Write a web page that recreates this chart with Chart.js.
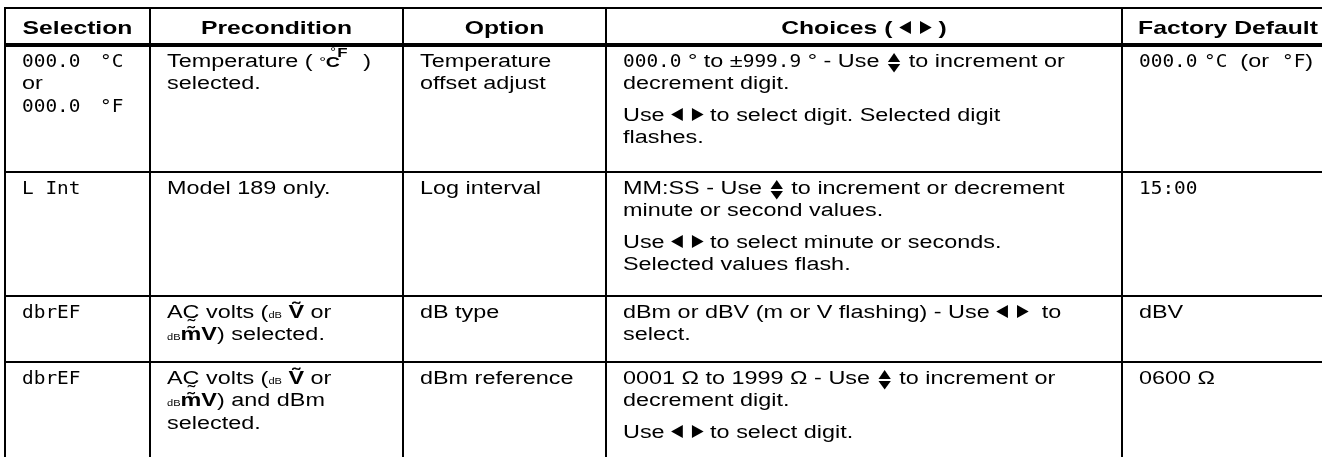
<!DOCTYPE html>
<html>
<head>
<meta charset="utf-8">
<script src="https://cdn.jsdelivr.net/npm/chart.js@4.4.1/dist/chart.umd.min.js"></script>
<style>
  html, body { margin: 0; padding: 0; background: #fff; }
  canvas { display: block; }
</style>
</head>
<body>
<canvas id="setupTable" width="1322" height="457"></canvas>
<script>
'use strict';

// ---- table contents (cell = list of paragraphs, paragraph = list of lines) ----
// {l:..} display font, {b:..} bold, {s:..} small, {lr} left/right keys, {ud} up/down keys, {deg} °C°F sign
const headers = ['Selection', 'Precondition', 'Option', 'Choices ( {lr} )', 'Factory Default'];

const selections = [
  [['{l:000.0}   {l:°C}', 'or', '{l:000.0}   {l:°F}']],
  [['{l:L Int}']],
  [['{l:dbrEF}']],
  [['{l:dbrEF}']]
];

const preconditions = [
  [['Temperature ( {deg}  )', 'selected.']],
  [['Model 189 only.']],
  [['AC\u0330 volts ({s:dB} {b:V\u0303} or', '{s:dB}{b:m\u0303V}) selected.']],
  [['AC\u0330 volts ({s:dB} {b:V\u0303} or', '{s:dB}{b:m\u0303V}) and dBm', 'selected.']]
];

const optionNames = [
  [['Temperature', 'offset adjust']],
  [['Log interval']],
  [['dB type']],
  [['dBm reference']]
];

const choices = [
  [['{l:000.0} ° to ±{l:999.9} ° - Use {ud} to increment or', 'decrement digit.'],
   ['Use {lr} to select digit. Selected digit', 'flashes.']],
  [['MM:SS - Use {ud} to increment or decrement', 'minute or second values.'],
   ['Use {lr} to select minute or seconds.', 'Selected values flash.']],
  [['dBm or dBV (m or V flashing) - Use {lr}  to', 'select.']],
  [['0001 \u03a9 to 1999 \u03a9 - Use {ud} to increment or', 'decrement digit.'],
   ['Use {lr} to select digit.']]
];

const factoryDefaults = [
  [['{l:000.0} {l:°C}  (or  {l:°F})']],
  [['{l:15:00}']],
  [['dBV']],
  [['0600 \u03a9']]
];

// ---- layout ----
const colEdges = [5, 150, 403, 606, 1122, 1334];
const rowEdges = [8, 45, 172, 296, 362, 500];
const SX = 1.30;          // the page is stretched sideways
const PAD = 17;
const LINE_H = 22.5;
const PARA_GAP = 9;

const FACE = '"Liberation Sans", Arial, sans-serif';
const runStyles = {
  n: { font: '18px ' + FACE, sx: 1 },
  h: { font: 'bold 19px ' + FACE, sx: 1 },
  b: { font: 'bold 18px ' + FACE, sx: 1 },
  s: { font: '8.5px ' + FACE, sx: 1 },
  l: { font: '18px "DejaVu Sans Mono", monospace', sx: 0.83 }
};

function parseRuns(str) {
  const runs = [];
  const re = /\{(\w+)(?::([^}]*))?\}/g;
  let last = 0, m;
  while ((m = re.exec(str))) {
    if (m.index > last) runs.push({ k: 'n', t: str.slice(last, m.index) });
    runs.push({ k: m[1], t: m[2] || '' });
    last = re.lastIndex;
  }
  if (last < str.length) runs.push({ k: 'n', t: str.slice(last) });
  return runs;
}

function tri(ctx, pts) {
  ctx.beginPath();
  ctx.moveTo(pts[0], pts[1]);
  ctx.lineTo(pts[2], pts[3]);
  ctx.lineTo(pts[4], pts[5]);
  ctx.closePath();
  ctx.fill();
}

// draws one line of runs at (x, y) baseline, returns its unstretched width
function drawLine(ctx, text, x, y, base, measureOnly) {
  const runs = parseRuns(text);
  let cx = 0;
  ctx.save();
  ctx.translate(x, y);
  ctx.scale(SX, 1);
  runs.forEach(run => {
    if (run.k === 'lr') {
      if (!measureOnly) {
        tri(ctx, [cx, -6, cx + 9, -12.5, cx + 9, 0.5]);
        tri(ctx, [cx + 25, -6, cx + 16, -12.5, cx + 16, 0.5]);
      }
      cx += 25;
    } else if (run.k === 'ud') {
      if (!measureOnly) {
        tri(ctx, [cx + 1.5, -4.5, cx + 11, -4.5, cx + 6.25, -13.5]);
        tri(ctx, [cx + 1.5, -2.5, cx + 11, -2.5, cx + 6.25, 6]);
      }
      cx += 12.5;
    } else if (run.k === 'deg') {
      if (!measureOnly) {
        ctx.font = '13px ' + FACE;
        ctx.fillText('°', cx, -1);
        ctx.font = 'bold 15px ' + FACE;
        ctx.fillText('C', cx + 5, 0);
        ctx.font = '11px ' + FACE;
        ctx.fillText('°', cx + 8.5, -11.5);
        ctx.font = 'bold 13px ' + FACE;
        ctx.fillText('F', cx + 14, -9.5);
      }
      cx += 24;
    } else {
      const st = runStyles[run.k === 'n' ? base : run.k];
      ctx.font = st.font;
      const w = ctx.measureText(run.t).width * st.sx;
      if (!measureOnly) {
        ctx.save();
        ctx.translate(cx, 0);
        ctx.scale(st.sx, 1);
        ctx.fillText(run.t, 0, 0);
        ctx.restore();
      }
      cx += w;
    }
  });
  ctx.restore();
  return cx;
}

const tableText = {
  id: 'tableText',
  afterDraw(chart) {
    const ctx = chart.ctx;
    const x = chart.scales.x;
    const y = chart.scales.y;
    ctx.save();
    ctx.fillStyle = '#000';
    ctx.textBaseline = 'alphabetic';

    // header, centred in each column
    const hy = (y.getPixelForValue(rowEdges[0]) + y.getPixelForValue(rowEdges[1])) / 2 + 7;
    headers.forEach((h, c) => {
      const mid = (x.getPixelForValue(colEdges[c]) + x.getPixelForValue(colEdges[c + 1])) / 2;
      const w = drawLine(ctx, h, 0, 0, 'h', true) * SX;
      drawLine(ctx, h, mid - w / 2, hy, 'h', false);
    });

    // body rows
    for (let r = 0; r < selections.length; r++) {
      const cells = [selections[r], preconditions[r], optionNames[r], choices[r], factoryDefaults[r]];
      const top = y.getPixelForValue(rowEdges[r + 1]);
      cells.forEach((paras, c) => {
        const left = x.getPixelForValue(colEdges[c]) + PAD;
        let by = top + 21.5;
        paras.forEach((lines, p) => {
          if (p > 0) by += PARA_GAP;
          lines.forEach(line => {
            drawLine(ctx, line, left, by, 'n', false);
            by += LINE_H;
          });
        });
      });
    }
    ctx.restore();
  }
};

window.onload = function () {
  const context = document.getElementById('setupTable').getContext('2d');
  const W = 1322, H = 457;

  new Chart(context, {
    type: 'scatter',
    data: { datasets: [] },
    options: {
      responsive: false,
      animation: false,
      events: [],
      layout: { padding: { left: 4, top: 7, right: 0, bottom: 0 } },
      plugins: {
        legend: { display: false },
        tooltip: { enabled: false }
      },
      scales: {
        x: {
          type: 'linear',
          position: 'top',
          min: 4,
          max: W,
          ticks: { display: false },
          border: { display: false },
          grid: { drawTicks: false, color: '#000', lineWidth: 2 },
          afterBuildTicks: axis => {
            axis.ticks = colEdges.filter(v => v <= W).map(v => ({ value: v }));
          }
        },
        y: {
          type: 'linear',
          reverse: true,
          min: 7,
          max: H,
          ticks: { display: false },
          border: { display: false },
          grid: {
            drawTicks: false,
            color: '#000',
            lineWidth: c => (c.tick && c.tick.value === rowEdges[1] ? 4 : 2)
          },
          afterBuildTicks: axis => {
            axis.ticks = rowEdges.filter(v => v <= H).map(v => ({ value: v }));
          }
        }
      }
    },
    plugins: [tableText]
  });
};
</script>
</body>
</html>
